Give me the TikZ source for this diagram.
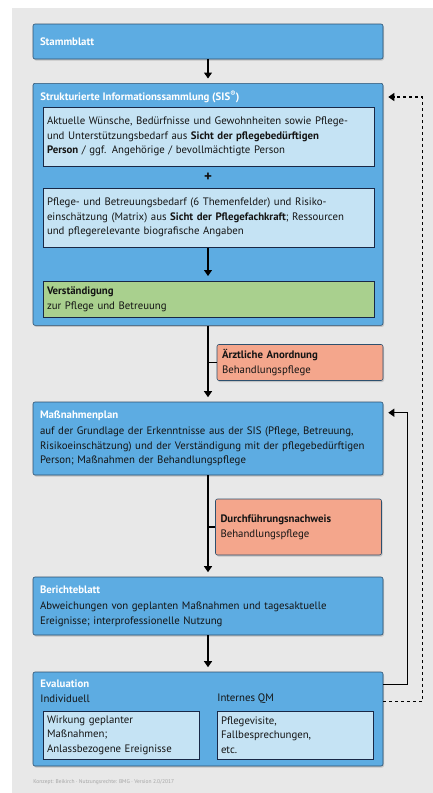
\documentclass[tikz,border=0pt]{standalone}
\usepackage{fontspec}
\setmainfont{PT Sans}
\usetikzlibrary{arrows.meta,shadows,calc}

\definecolor{sisblue}{RGB}{93,172,226}
\definecolor{sislight}{RGB}{197,227,244}
\definecolor{sisgreen}{RGB}{169,208,142}
\definecolor{sisred}{RGB}{244,166,140}
\definecolor{sisgray}{RGB}{232,232,232}
\definecolor{sisedge}{RGB}{45,80,110}
\definecolor{sisnavy}{RGB}{25,40,70}
\definecolor{sistext}{RGB}{20,20,20}
\definecolor{sisfoot}{RGB}{165,165,165}

\newcommand{\bodyfont}{\fontsize{10.8}{14.5}\selectfont}
\newcommand{\wtitle}[1]{{\color{white}\bfseries #1}}

\tikzset{every picture/.style={line width=0.75pt}}
\tikzset{
  mainbox/.style={draw=sisedge, line width=0.6pt, fill=sisblue, rounded corners=2pt,
    drop shadow={shadow xshift=1pt, shadow yshift=-1.5pt, opacity=0.35},
    minimum width=350pt, text width=336pt, inner sep=7pt, align=left,
    font=\bodyfont, text=sistext},
  infobox/.style={draw=sisnavy, line width=1pt, fill=sislight,
    minimum width=331pt, text width=323pt, inner sep=4pt, align=left,
    font=\bodyfont, text=sistext},
  notebox/.style={draw=sisedge, line width=0.6pt, fill=sisred, rounded corners=2pt,
    drop shadow={shadow xshift=1pt, shadow yshift=-1.5pt, opacity=0.35},
    minimum width=166pt, text width=156pt, inner sep=5pt, align=left,
    font=\bodyfont, text=sistext},
  flow/.style={line width=1.1pt, -{Triangle[length=6pt,width=8pt]}, shorten >=4.5pt},
  branch/.style={line width=1.1pt},
  backline/.style={line width=1.4pt, -{Triangle[length=6pt,width=8pt]}, shorten >=5pt},
  dashback/.style={backline, dash pattern=on 3pt off 3pt},
  plaintext/.style={anchor=west, inner sep=0pt, font=\bodyfont, text=sistext},
}

\begin{document}
\begin{tikzpicture}[x=1pt,y=1pt,yscale=-1,xscale=1]
\useasboundingbox (0,0) rectangle (433,793);
\fill[sisgray] (12,8) rectangle (433,793);

% main column
\node[mainbox, minimum height=35pt] (stamm) at (208,41.5) {\wtitle{Stammblatt}};
\node[mainbox, minimum height=242pt, anchor=north] (sis) at (208,83) {};
\node[plaintext] (sistitle) at (40,97) {\wtitle{Strukturierte Informationssammlung (SIS\textsuperscript{®})}};
\node[infobox, minimum height=59pt] (wunsch) at (208.5,136.5) {Aktuelle Wünsche, Bedürfnisse und Gewohnheiten sowie Pflege-\\und Unterstützungsbedarf aus \textbf{Sicht der pflegebedürftigen}\\\textbf{Person} / ggf. Angehörige / bevollmächtigte Person};
\node[plaintext, anchor=center, font=\bfseries\fontsize{15}{15}\selectfont] (plus) at (208,177) {+};
\node[infobox, minimum height=59pt] (bedarf) at (208.5,217.5) {Pflege- und Betreuungsbedarf (6 Themenfelder) und Risiko-\\einschätzung (Matrix) aus \textbf{Sicht der Pflegefachkraft}; Ressourcen\\und pflegerelevante biografische Angaben};
\node[infobox, fill=sisgreen, minimum height=36pt] (verst) at (208.5,299) {\textbf{Verständigung}\\zur Pflege und Betreuung};

\node[notebox, minimum height=35pt] (arzt) at (300,362.5) {\textbf{Ärztliche Anordnung}\\Behandlungspflege};
\node[mainbox, minimum height=73pt] (plan) at (208,438.5) {\wtitle{Maßnahmenplan}\\[2pt]auf der Grundlage der Erkenntnisse aus der SIS (Pflege, Betreuung,\\Risikoeinschätzung) und der Verständigung mit der pflegebedürftigen\\Person; Maßnahmen der Behandlungspflege};
\node[notebox, minimum width=165pt, minimum height=56pt] (durch) at (298.5,527) {\textbf{Durchführungsnachweis}\\Behandlungspflege};
\node[mainbox, minimum height=58pt] (bericht) at (208,606) {\wtitle{Berichteblatt}\\[2pt]Abweichungen von geplanten Maßnahmen und tagesaktuelle\\Ereignisse; interprofessionelle Nutzung};

% evaluation
\node[mainbox, minimum height=94pt] (eval) at (208,719) {};
\node[plaintext] (evaltitle) at (40,684) {\wtitle{Evaluation}};
\node[plaintext] (indivtitle) at (40,699) {Individuell};
\node[plaintext] (qmtitle) at (217,699) {Internes QM};
\node[infobox, minimum width=156pt, text width=148pt, minimum height=48pt] (indiv) at (121,735) {Wirkung geplanter\\Maßnahmen;\\Anlassbezogene Ereignisse};
\node[infobox, minimum width=156pt, text width=148pt, minimum height=48pt] (qm) at (295,735) {Pflegevisite,\\Fallbesprechungen,\\etc.};

% connectors
\draw[flow] (stamm.south) -- (sis.north);
\draw[flow] (bedarf.south -| sis.north) -- (verst.north -| sis.north);
\draw[flow] (sis.south) -- (plan.north);
\draw[branch] (arzt.west) -- (arzt.west -| sis.south);
\draw[flow] (plan.south) -- (bericht.north);
\draw[branch] (durch.west) -- (durch.west -| plan.south);
\draw[flow] (bericht.south) -- (eval.north);

% feedback
\draw[backline] ($(eval.north east)+(0,13)$) -- ++(24,0) |- ($(plan.north east)+(0,11)$);
\draw[dashback] ($(eval.north east)+(0,30)$) -- ++(39,0) |- ($(sis.north east)+(0,14)$);

\node[anchor=west, inner sep=0pt, font=\fontsize{5.5}{7}\selectfont, text=sisfoot] (foot) at (33,782.5) {Konzept: Beikirch · Nutzungsrechte: BMG · Version 2.0/2017};

\end{tikzpicture}
\end{document}
